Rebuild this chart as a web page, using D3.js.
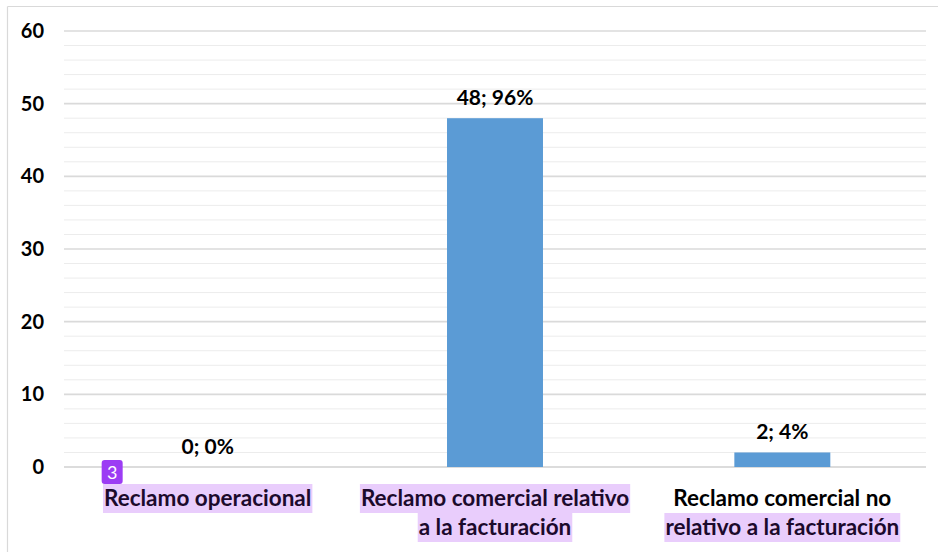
<!DOCTYPE html>
<html>
<head>
<meta charset="utf-8">
<script src="https://cdn.jsdelivr.net/npm/d3@7/dist/d3.min.js"></script>
<style>
  html, body { margin: 0; padding: 0; background: #fff; }
  svg { display: block; }
</style>
</head>
<body>
<svg id="chart" width="938" height="552"></svg>
<script>
// ---- data ----
const categories = ["Reclamo operacional", "Reclamo comercial relativo a la facturación", "Reclamo comercial no relativo a la facturación"];
const categoryLines = [
  ["Reclamo operacional"],
  ["Reclamo comercial relativo", "a la facturación"],
  ["Reclamo comercial no", "relativo a la facturación"]
];
const values = [0, 48, 2];
const percents = ["0%", "96%", "4%"];
const yTicks = [0, 10, 20, 30, 40, 50, 60];
const yMinorTicks = [2, 4, 6, 8, 12, 14, 16, 18, 22, 24, 26, 28, 32, 34, 36, 38, 42, 44, 46, 48, 52, 54, 56, 58];
// highlighted label lines [categoryIndex, lineIndex]
const highlighted = [[0, 0], [1, 0], [1, 1], [2, 1]];

// ---- layout ----
const svg = d3.select("#chart");
const W = 938, H = 552;
const m = { left: 64, right: 12, top: 31, bottom: 85 };
const font = "Lato, 'Open Sans', sans-serif";

// chart border
svg.append("line").attr("x1", 7.5).attr("x2", 7.5).attr("y1", 6.5).attr("y2", H).attr("stroke", "#d9d9d9").attr("stroke-width", 1.2);
svg.append("line").attr("x1", 7.5).attr("x2", W).attr("y1", 6.5).attr("y2", 6.5).attr("stroke", "#d9d9d9").attr("stroke-width", 1.2);

const x = d3.scaleBand().domain(categories).range([m.left, W - m.right]).padding(0);
const y = d3.scaleLinear().domain([0, 60]).range([H - m.bottom, m.top]);
const barW = x.bandwidth() * 0.334;

// minor gridlines
svg.append("g").selectAll("line").data(yMinorTicks).join("line")
  .attr("x1", m.left).attr("x2", W - m.right)
  .attr("y1", d => y(d)).attr("y2", d => y(d))
  .attr("stroke", "#ececec").attr("stroke-width", 1);

// major gridlines
svg.append("g").selectAll("line").data(yTicks).join("line")
  .attr("x1", m.left).attr("x2", W - m.right)
  .attr("y1", d => y(d)).attr("y2", d => y(d))
  .attr("stroke", d => d === 0 ? "#d0d0d0" : "#dadada").attr("stroke-width", 1.6);

// y axis labels
const yAxis = d3.axisLeft(y).tickValues(yTicks).tickSize(0).tickPadding(0);
const gy = svg.append("g").attr("transform", `translate(44,0)`).call(yAxis);
gy.select(".domain").remove();
gy.selectAll("text").attr("font-family", font).attr("font-weight", "bold").attr("font-size", 20).attr("fill", "#000");

// bars
svg.append("g").selectAll("rect").data(values).join("rect")
  .attr("x", (d, i) => x(categories[i]) + x.bandwidth() / 2 - barW / 2)
  .attr("width", barW)
  .attr("y", d => y(d))
  .attr("height", d => y(0) - y(d))
  .attr("fill", "#5b9bd5");

// value labels
svg.append("g").selectAll("text").data(values).join("text")
  .attr("x", (d, i) => x(categories[i]) + x.bandwidth() / 2)
  .attr("y", d => y(d) - 13)
  .attr("text-anchor", "middle")
  .attr("font-family", font).attr("font-weight", "bold").attr("font-size", 21)
  .attr("fill", "#000")
  .text((d, i) => `${d}; ${percents[i]}`);

// category labels with highlights
const gl = svg.append("g");
const hlLayer = gl.append("g");
const textLayer = gl.append("g");
categoryLines.forEach((lines, ci) => {
  lines.forEach((ln, li) => {
    const cx = x(categories[ci]) + x.bandwidth() / 2;
    const ty = 506 + li * 29;
    const isHl = highlighted.some(h => h[0] === ci && h[1] === li);
    const t = textLayer.append("text")
      .attr("x", cx).attr("y", ty)
      .attr("text-anchor", "middle")
      .attr("font-family", font).attr("font-weight", "bold").attr("font-size", 22.5)
      .attr("fill", isHl ? "#1c0a2c" : "#000")
      .text(ln);
    if (isHl) {
      const bb = t.node().getBBox();
      hlLayer.append("rect")
        .attr("x", bb.x - 1).attr("width", bb.width + 2)
        .attr("y", ty - 22).attr("height", 29)
        .attr("fill", "#e9cdfc");
    }
  });
});

// badge
const bx = x(categories[0]) + x.bandwidth() / 2 - 106;
svg.append("rect").attr("x", bx).attr("y", 460).attr("width", 21).attr("height", 24).attr("rx", 3)
  .attr("fill", "#9c3cf4");
svg.append("text").attr("x", bx + 10.5).attr("y", 479).attr("text-anchor", "middle")
  .attr("font-family", font).attr("font-size", 18).attr("fill", "#fff").text("3");
</script>
</body>
</html>
